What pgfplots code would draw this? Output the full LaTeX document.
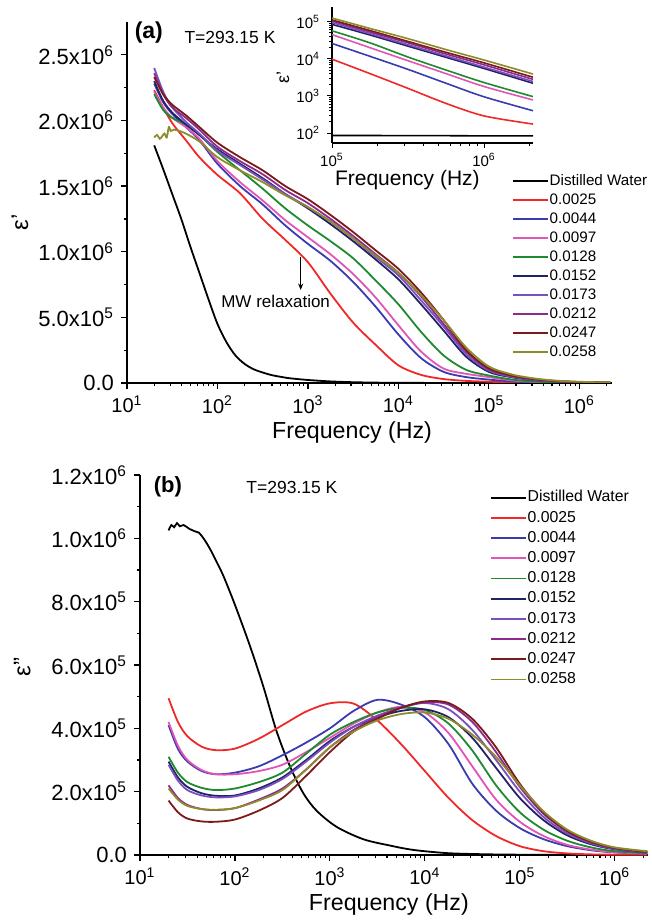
\documentclass[border=0pt]{standalone}
\usepackage{fontspec}
\setmainfont{Liberation Sans}
\usepackage{pgfplots}
\usepackage{pgfplotstable}
\pgfplotsset{compat=1.18}
\usetikzlibrary{arrows.meta}

\newcommand{\fs}[1]{\fontsize{#1}{#1}\selectfont}
\newcommand{\sci}[2]{#1x10\textsuperscript{#2}}
\newcommand{\dec}[1]{10\textsuperscript{#1}}

\definecolor{cred}{HTML}{F02828}
\definecolor{cblue}{HTML}{3B3BB0}
\definecolor{cpink}{HTML}{E055B5}
\definecolor{cgreen}{HTML}{1E8A2E}
\definecolor{cnavy}{HTML}{222266}
\definecolor{cviolet}{HTML}{7A4FC0}
\definecolor{cpurple}{HTML}{8E2A8E}
\definecolor{cwine}{HTML}{7A1A1A}
\definecolor{colive}{HTML}{8C8C2A}

% (a) real part, in units of 1e6
\pgfplotstableread{
f       r        b       p       g       n       v       m       w
20      2.23     2.28    2.22    2.2     2.3     2.4     2.36    2.33
25.1    2.10     2.14    2.10    2.08    2.15    2.22    2.2     2.2
31.6    1.98     2.05    2.02    2.02    2.06    2.1     2.1     2.12
44.7    1.85     1.95    1.95    1.97    1.97    1.99    2.02    2.04
63.1    1.72     1.85    1.86    1.89    1.89    1.9     1.93    1.95
100     1.585    1.67    1.69    1.76    1.78    1.77    1.8     1.83
177.8   1.445    1.50    1.53    1.62    1.67    1.66    1.69    1.72
316.2   1.25     1.36    1.39    1.48    1.56    1.55    1.59    1.62
562.3   1.09     1.2     1.24    1.33    1.44    1.44    1.47    1.5
1000    0.92     1.06    1.11    1.2     1.33    1.34    1.37    1.4
1778    0.68     0.93    0.98    1.08    1.21    1.23    1.25    1.28
3162    0.46     0.77    0.83    0.95    1.08    1.1     1.12    1.15
5623    0.29     0.58    0.65    0.78    0.94    0.96    0.98    1.01
10000   0.135    0.37    0.44    0.60    0.79    0.82    0.84    0.87
17783   0.062    0.19    0.24    0.39    0.6     0.63    0.66    0.69
31623   0.03     0.085   0.11    0.21    0.4     0.43    0.45    0.48
56234   0.016    0.045   0.07    0.1     0.2     0.22    0.24    0.25
100000  0.0098   0.026   0.045   0.057   0.085   0.095   0.105   0.112
177828  0.004    0.0117  0.02    0.027   0.044   0.048   0.053   0.058
316228  0.0016   0.0052  0.0089  0.0112  0.022   0.024   0.027   0.0295
562341  0.00063  0.0022  0.004   0.005   0.011   0.012   0.0135  0.015
1000000 0.00029  0.00095 0.0018  0.0023  0.0055  0.006   0.0069  0.0078
2200000 0.000175 0.0004  0.00078 0.00096 0.0022  0.00245 0.0028  0.0032
}\realdata

\pgfplotstableread{
f       v
20      1.81
25.1    1.63
31.6    1.44
39.8    1.25
50.1    1.04
63.1    0.84
79.4    0.64
100     0.45
126     0.31
158     0.21
200     0.145
251     0.105
316     0.08
398     0.06
501     0.047
631     0.036
1000    0.023
1778    0.012
3162    0.006
5623    0.003
10000   0.0012
100000  0.000086
2200000 0.000084
}\realwater

\pgfplotstableread{
f       v
20      1.87
21.5    1.89
23      1.86
24.5    1.88
26      1.9
27.5    1.87
29      1.95
30.5    1.92
33      1.93
38      1.92
44.7    1.9
63.1    1.84
100     1.72
177.8   1.62
316.2   1.53
562.3   1.43
1000    1.34
1778    1.23
3162    1.1
5623    0.97
10000   0.84
17783   0.67
31623   0.48
56234   0.27
100000  0.126
177828  0.066
316228  0.035
562341  0.0178
1000000 0.0093
2200000 0.0039
}\realolive

% inset, real part
\pgfplotstableread{
f       k    r     b     p     g     n     v     m      w      o
100000  86   9800  26000 45000 57000 85000 95000 105000 112000 126000
177828  86   4000  11700 20000 27000 44000 48000 53000  58000  66000
316228  85   1600  5200  8900  11200 22000 24000 27000  29500  35000
562341  85   630   2200  4000  5000  11000 12000 13500  15000  17800
1000000 84   290   950   1800  2300  5500  6000  6900   7800   9300
2100000 84   175   400   780   960   2200  2450  2800   3200   3900
}\insetdata

% (b) imaginary part, in units of 1e5
\pgfplotstableread{
f       r      b      p      g      n      v      m      w      o
20      4.95   4.1    4.2    3.1    2.95   2.85   2.2    1.72   2.1
25.1    4.2    3.35   3.45   2.6    2.45   2.35   1.8    1.35   1.75
31.6    3.75   2.95   3.0    2.3    2.15   2.05   1.58   1.15   1.55
44.7    3.42   2.65   2.68   2.12   1.95   1.88   1.45   1.06   1.45
63.1    3.31   2.55   2.55   2.05   1.87   1.82   1.42   1.05   1.43
100     3.36   2.6    2.55   2.1    1.88   1.85   1.48   1.12   1.48
177.8   3.67   2.8    2.65   2.3    2.1    2.05   1.75   1.4    1.72
316.2   4.1    3.15   2.85   2.6    2.45   2.4    2.1    1.8    2.05
562.3   4.53   3.55   3.25   3.2    3.0    2.95   2.7    2.5    2.7
1000    4.79   4.0    3.7    3.8    3.6    3.55   3.4    3.25   3.4
1778    4.78   4.55   4.15   4.2    4.05   4.05   3.95   3.9    3.9
3162    4.25   4.9    4.5    4.5    4.35   4.4    4.35   4.3    4.25
5623    3.5    4.75   4.68   4.65   4.55   4.65   4.65   4.65   4.45
10000   2.65   4.35   4.5    4.58   4.6    4.8    4.82   4.85   4.5
17783   1.8    3.5    3.85   4.15   4.35   4.6    4.75   4.8    4.3
31623   1.1    2.25   2.8    3.3    3.7    3.95   4.2    4.3    3.8
56234   0.6    1.4    1.75   2.2    2.75   3.0    3.25   3.4    3.1
100000  0.28   0.85   1.05   1.35   1.8    2.0    2.15   2.25   2.2
177828  0.12   0.5    0.6    0.8    1.1    1.2    1.3    1.35   1.38
316228  0.05   0.28   0.32   0.45   0.62   0.68   0.74   0.76   0.8
562341  0.02   0.15   0.17   0.24   0.34   0.37   0.4    0.42   0.45
1000000 0.01   0.08   0.09   0.12   0.18   0.19   0.21   0.22   0.24
2200000 0.005  0.04   0.04   0.06   0.08   0.09   0.1    0.1    0.12
}\imagdata

\pgfplotstableread{
f       v
20      10.25
21.4    10.42
22.9    10.35
24.5    10.48
26.3    10.38
28.8    10.42
33.1    10.3
38      10.22
41.7    10.18
47.9    9.95
55      9.65
63.1    9.3
75.9    8.8
100     7.9
144     6.6
200     5.3
275     3.9
380     2.8
525     1.95
724     1.4
1175    0.89
2239    0.5
4266    0.3
7586    0.16
16982   0.06
39811   0.025
100000  0.01
316228  0.004
2200000 0.001
}\imagwater

\begin{document}
\begin{tikzpicture}
\path[use as bounding box] (0,0) rectangle (326pt,461.5pt);

% ---------- (a) real part ----------
\begin{axis}[
  scale only axis, xmode=log,
  at={(63.5pt,270pt)}, anchor=south west,
  width=242.5pt, height=180.5pt,
  xmin=10, xmax=2.3e6, ymin=0, ymax=2.75,
  axis x line*=bottom, axis y line*=left,
  axis line style={line width=0.65pt},
  tick align=outside, tickwidth=3pt, subtickwidth=1.6pt,
  tick style={line width=0.6pt, black},
  xtick={10,100,1000,10000,100000,1000000},
  xticklabels={\dec{1},\dec{2},\dec{3},\dec{4},\dec{5},\dec{6}},
  minor xtick={20,30,40,50,60,70,80,90,200,300,400,500,600,700,800,900,
    2000,3000,4000,5000,6000,7000,8000,9000,20000,30000,40000,50000,60000,
    70000,80000,90000,200000,300000,400000,500000,600000,700000,800000,
    900000,2000000},
  ytick={0,0.5,1,1.5,2,2.5}, minor y tick num=1,
  yticklabels={0.0,\sci{5.0}{5},\sci{1.0}{6},\sci{1.5}{6},\sci{2.0}{6},\sci{2.5}{6}},
  yticklabel style={font=\fs{11}},
  xticklabel style={font=\fs{10}},
  xlabel={Frequency (Hz)}, ylabel={ε'},
  xlabel style={font=\fs{11.6}, at={(axis description cs:0.464,-0.136)}, anchor=center},
  ylabel style={font=\fs{12}, at={(axis description cs:-0.2206,0.446)}, anchor=center},
  legend style={draw=none, fill=none, inner sep=0pt, row sep=0pt,
    at={(axis description cs:0.794,0.586)}, anchor=north west,
    font=\fs{7.6},
    nodes={inner xsep=0.6pt, inner ysep=1.2pt, text height=5.6pt, text depth=1.5pt}},
  legend cell align=left,
  legend image post style={line width=0.95pt},
  every axis plot/.append style={line width=0.9pt, smooth, tension=0.5},
]
\addplot[black, no marks]   table[x=f,y=v] {\realwater};
\addplot[cred, no marks]    table[x=f,y=r] {\realdata};
\addplot[cblue, no marks]   table[x=f,y=b] {\realdata};
\addplot[cpink, no marks]   table[x=f,y=p] {\realdata};
\addplot[cgreen, no marks]  table[x=f,y=g] {\realdata};
\addplot[cnavy, no marks]   table[x=f,y=n] {\realdata};
\addplot[cviolet, no marks] table[x=f,y=v] {\realdata};
\addplot[cpurple, no marks] table[x=f,y=m] {\realdata};
\addplot[cwine, no marks]   table[x=f,y=w] {\realdata};
\addplot[colive, no marks]  table[x=f,y=v] {\realolive};
\legend{Distilled Water,0.0025,0.0044,0.0097,0.0128,0.0152,0.0173,0.0212,0.0247,0.0258}
\end{axis}
% annotations of (a), placed in the same axis frame
\begin{axis}[
  scale only axis, xmode=log, hide axis,
  at={(63.5pt,270pt)}, anchor=south west,
  width=242.5pt, height=180.5pt,
  xmin=10, xmax=2.3e6, ymin=0, ymax=2.75, clip=false,
]
\node[font=\fs{11.5}\bfseries] at (axis description cs:0.045,0.9695) {(a)};
\node[font=\fs{8.75}] at (axis description cs:0.2124,0.958) {T=293.15 K};
\node[font=\fs{8.5}] at (axis cs:440,0.62) {MW relaxation};
\draw[-{Stealth[length=3.2pt,width=2.6pt]}, line width=0.5pt] (axis cs:832,0.963) -- (axis cs:832,0.709);
\end{axis}

% ---------- inset ----------
\begin{axis}[
  scale only axis, at={(166pt,390pt)}, anchor=south west,
  width=100.5pt, height=68pt,
  xmode=log, ymode=log,
  xmin=1e5, xmax=2.1e6, ymin=54, ymax=2.5e5,
  axis x line*=bottom, axis y line*=left,
  axis line style={line width=0.6pt},
  tick align=outside, tickwidth=2.5pt, subtickwidth=1.4pt,
  tick style={line width=0.5pt, black},
  xtick={100000,1000000}, xticklabels={\dec{5},\dec{6}},
  minor xtick={200000,300000,400000,500000,600000,700000,800000,900000,2000000},
  ytick={100,1000,10000,100000}, yticklabels={\dec{2},\dec{3},\dec{4},\dec{5}},
  tick label style={font=\fs{7.5}},
  xticklabel style={yshift=1pt},
  xlabel={Frequency (Hz)}, ylabel={ε'},
  xlabel style={font=\fs{10.5}, at={(axis description cs:0.375,-0.275)}, anchor=center},
  ylabel style={font=\fs{9}, at={(axis description cs:-0.244,0.485)}, anchor=center},
  every axis plot/.append style={line width=0.8pt, smooth, tension=0.5},
]
\addplot[black, no marks]   table[x=f,y=k] {\insetdata};
\addplot[cred, no marks]    table[x=f,y=r] {\insetdata};
\addplot[cblue, no marks]   table[x=f,y=b] {\insetdata};
\addplot[cpink, no marks]   table[x=f,y=p] {\insetdata};
\addplot[cgreen, no marks]  table[x=f,y=g] {\insetdata};
\addplot[cnavy, no marks]   table[x=f,y=n] {\insetdata};
\addplot[cviolet, no marks] table[x=f,y=v] {\insetdata};
\addplot[cpurple, no marks] table[x=f,y=m] {\insetdata};
\addplot[cwine, no marks]   table[x=f,y=w] {\insetdata};
\addplot[colive, no marks]  table[x=f,y=o] {\insetdata};
\end{axis}

% ---------- (b) imaginary part ----------
\begin{axis}[
  scale only axis, xmode=log,
  at={(70pt,34pt)}, anchor=south west,
  width=254pt, height=190pt,
  xmin=10, xmax=2.24e6, ymin=0, ymax=12,
  axis x line*=bottom, axis y line*=left,
  axis line style={line width=0.65pt},
  tick align=outside, tickwidth=3pt, subtickwidth=1.6pt,
  tick style={line width=0.6pt, black},
  xtick={10,100,1000,10000,100000,1000000},
  xticklabels={\dec{1},\dec{2},\dec{3},\dec{4},\dec{5},\dec{6}},
  minor xtick={20,30,40,50,60,70,80,90,200,300,400,500,600,700,800,900,
    2000,3000,4000,5000,6000,7000,8000,9000,20000,30000,40000,50000,60000,
    70000,80000,90000,200000,300000,400000,500000,600000,700000,800000,
    900000,2000000},
  ytick={0,2,4,6,8,10,12}, minor y tick num=1,
  yticklabels={0.0,\sci{2.0}{5},\sci{4.0}{5},\sci{6.0}{5},\sci{8.0}{5},\sci{1.0}{6},\sci{1.2}{6}},
  yticklabel style={font=\fs{11}},
  xticklabel style={font=\fs{10}},
  xlabel={Frequency (Hz)}, ylabel={ε''},
  xlabel style={font=\fs{11.6}, at={(axis description cs:0.49,-0.13)}, anchor=center},
  ylabel style={font=\fs{12}, at={(axis description cs:-0.232,0.495)}, anchor=center},
  legend style={draw=none, fill=none, inner sep=0pt, row sep=0pt,
    at={(axis description cs:0.689,0.968)}, anchor=north west,
    font=\fs{7.9},
    nodes={inner xsep=0.6pt, inner ysep=1.45pt, text height=5.7pt, text depth=1.5pt}},
  legend cell align=left,
  legend image post style={line width=0.95pt},
  every axis plot/.append style={line width=0.9pt, smooth, tension=0.5},
]
\addplot[black, no marks]   table[x=f,y=v] {\imagwater};
\addplot[cred, no marks]    table[x=f,y=r] {\imagdata};
\addplot[cblue, no marks]   table[x=f,y=b] {\imagdata};
\addplot[cpink, no marks]   table[x=f,y=p] {\imagdata};
\addplot[cgreen, no marks]  table[x=f,y=g] {\imagdata};
\addplot[cnavy, no marks]   table[x=f,y=n] {\imagdata};
\addplot[cviolet, no marks] table[x=f,y=v] {\imagdata};
\addplot[cpurple, no marks] table[x=f,y=m] {\imagdata};
\addplot[cwine, no marks]   table[x=f,y=w] {\imagdata};
\addplot[colive, no marks]  table[x=f,y=o] {\imagdata};
\legend{Distilled Water,0.0025,0.0044,0.0097,0.0128,0.0152,0.0173,0.0212,0.0247,0.0258}
\node[font=\fs{11}\bfseries] at (axis description cs:0.055,0.968) {(b)};
\node[font=\fs{8.75}] at (axis description cs:0.299,0.968) {T=293.15 K};
\end{axis}
\end{tikzpicture}
\end{document}
